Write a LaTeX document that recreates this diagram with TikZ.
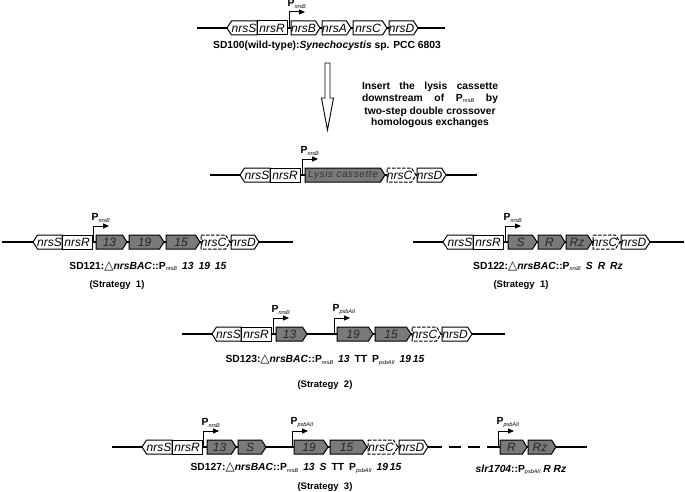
\documentclass[tikz,border=0pt]{standalone}
\usepackage{fontspec}
\setmainfont{Liberation Sans}
\newfontfamily\symf{DejaVu Sans}
\usetikzlibrary{calc,arrows.meta}
\newcounter{gnum}
\tikzset{
  backbone/.style={line width=1.2pt},
  wt/.style={draw, line width=1pt, fill=white},
  ins/.style={draw, line width=1pt, fill=black!52},
  del/.style={draw, line width=1pt, fill=white, dash pattern=on 3.5pt off 1.5pt},
  gname/.style={font=\fontsize{12}{14}\selectfont\itshape, inner sep=0pt},
  lab/.style={font=\fontsize{10.3}{12}\selectfont\bfseries, inner sep=0pt},
  strat/.style={font=\fontsize{9.5}{11}\selectfont\bfseries, inner sep=0pt},
  promarrow/.style={line width=1pt, -{Triangle[length=6pt,width=5pt]}},
}
\newcommand{\Pn}[1]{P\raisebox{-1.5pt}{\fontsize{5.5}{6}\selectfont\mdseries\itshape #1}}
\newcommand{\dlt}{{\symf\mdseries\fontsize{12}{12}\selectfont △}}
\newcommand{\gap}{\hspace{5pt}}
% genes: [style]{x start}{x end}{name}
\newcommand{\geneR}[4][wt]{%
  \stepcounter{gnum}%
  \draw[#1] (#2,-7) -- (#3-4.5,-7) -- (#3,0) -- (#3-4.5,7) -- (#2,7) -- cycle;
  \node[gname] (g\arabic{gnum}) at ({(#2+#3-4)/2},0) {#4};}
\newcommand{\geneL}[4][wt]{%
  \stepcounter{gnum}%
  \draw[#1] (#2,0) -- (#2+4.5,-7) -- (#3,-7) -- (#3,7) -- (#2+4.5,7) -- cycle;
  \node[gname] (g\arabic{gnum}) at ({(#2+4+#3)/2},0) {#4};}
\newcommand{\geneB}[4][wt]{%
  \stepcounter{gnum}%
  \draw[#1] (#2,-7) rectangle (#3,7);
  \node[gname] (g\arabic{gnum}) at ({(#2+#3)/2},0) {#4};}
% promoter: {name}{x}{label}
\newcommand{\prom}[3]{%
  \coordinate (#1) at (#2,0);
  \draw[promarrow] (#1) -- ++(0,-16) -- ++(16,0);
  \node[lab, anchor=south west] (#1t) at ($(#1)+(-1.5,-19.5)$) {#3};}

\begin{document}
\begin{tikzpicture}[x=1pt,y=-1pt]
  \useasboundingbox (0,0) rectangle (685,492);
  % wild type
  \begin{scope}[shift={(0,28)}]
    \coordinate (wtA) at (197,0);
    \coordinate (wtB) at (445,0);
    \draw[backbone] (wtA) -- (wtB);
    \geneL{227}{257}{nrsS}
    \geneB{257}{287}{nrsR}
    \geneR{291}{320}{nrsB}
    \geneR{322}{351}{nrsA}
    \geneR{353}{387}{nrsC}
    \geneR{389}{418}{nrsD}
    \prom{pwt}{289}{\Pn{nrsB}}
  \end{scope}
  \node[lab] (sd100) at (327,46) {SD100(wild-type):\textit{Synechocystis} sp. PCC 6803};
  % insertion step
  \draw[line width=0.9pt, fill=white] (325,63) -- (330,63) -- (330,98) -- (333.5,98)
    -- (327.5,130) -- (321.5,98) -- (325,98) -- cycle;
  \node[lab] (ins1) at (430,87) {\makebox[136pt][s]{Insert the lysis cassette}};
  \node[lab] (ins2) at (430,98.5) {\makebox[136pt][s]{downstream of \Pn{nrsB} by}};
  \node[lab] (ins3) at (430,112) {two-step double crossover};
  \node[lab] (ins4) at (430,123) {homologous exchanges};
  % cassette
  \begin{scope}[shift={(0,175)}]
    \coordinate (lcA) at (210,0);
    \coordinate (lcB) at (477,0);
    \draw[backbone] (lcA) -- (lcB);
    \geneL{240}{270}{nrsS}
    \geneB{270}{300}{nrsR}
    \geneR[ins]{305}{385}{\fontsize{10}{12}\selectfont\addfontfeature{LetterSpace=6}\color{black!80}Lysis cassette}
    \geneR[del]{387}{416}{nrsC}
    \geneR{417}{446}{nrsD}
    \prom{plc}{302}{\Pn{nrsB}}
  \end{scope}
  % SD121
  \begin{scope}[shift={(0,242)}]
    \coordinate (s1A) at (2,0);
    \coordinate (s1B) at (293,0);
    \draw[backbone] (s1A) -- (s1B);
    \geneL{33}{62}{nrsS}
    \geneB{62}{92}{nrsR}
    \geneR[ins]{96}{127}{\color{black!85}13}
    \geneR[ins]{129}{164}{\color{black!85}19}
    \geneR[ins]{166}{200}{\color{black!85}15}
    \geneR[del]{201}{230}{nrsC}
    \geneR{231}{259}{nrsD}
    \prom{p121}{93}{\Pn{nrsB}}
  \end{scope}
  \node[lab] (sd121) at (148,266) {SD121:\dlt\textit{nrsBAC}::\Pn{nrsB}\gap\textit{13\gap 19\gap 15}};
  \node[strat] (st1a) at (117,285) {(Strategy\ \ 1)};
  % SD122
  \begin{scope}[shift={(0,242)}]
    \coordinate (s2A) at (413,0);
    \coordinate (s2B) at (684,0);
    \draw[backbone] (s2A) -- (s2B);
    \geneL{443}{473}{nrsS}
    \geneB{473}{503}{nrsR}
    \geneR[ins]{508}{537}{\color{black!85}S}
    \geneR[ins]{538}{565}{\color{black!85}R}
    \geneR[ins]{566}{592}{\color{black!85}Rz}
    \geneR[del]{593}{620}{nrsC}
    \geneR{621}{650}{nrsD}
    \prom{p122}{505}{\Pn{nrsB}}
  \end{scope}
  \node[lab] (sd122) at (548,266) {SD122:\dlt\textit{nrsBAC}::\Pn{nrsB}\gap\textit{S\gap R\gap Rz}};
  \node[strat] (st1b) at (521,285) {(Strategy\ \ 1)};
  % SD123
  \begin{scope}[shift={(0,334)}]
    \coordinate (s3A) at (182,0);
    \coordinate (s3B) at (505,0);
    \draw[backbone] (s3A) -- (s3B);
    \geneL{212}{241}{nrsS}
    \geneB{241}{271}{nrsR}
    \geneR[ins]{276}{307}{\color{black!85}13}
    \geneR[ins]{337}{373}{\color{black!85}19}
    \geneR[ins]{375}{411}{\color{black!85}15}
    \geneR[del]{412}{441}{nrsC}
    \geneR{442}{472}{nrsD}
    \prom{p123a}{273}{\Pn{nrsB}}
    \prom{p123b}{334}{\Pn{psbAII}}
  \end{scope}
  \node[lab] (sd123) at (325,360) {SD123:\dlt\textit{nrsBAC}::\Pn{nrsB}\gap\textit{13}\gap TT\gap\Pn{psbAII}\gap\textit{19\,15}};
  \node[strat] (st2) at (325,385) {(Strategy\ \ 2)};
  % SD127 and slr1704
  \begin{scope}[shift={(0,447)}]
    \coordinate (s4A) at (112,0);
    \coordinate (s4B) at (430,0);
    \coordinate (s4C) at (498,0);
    \coordinate (s4D) at (587,0);
    \draw[backbone] (s4A) -- (s4B);
    \draw[backbone, dash pattern=on 12pt off 7pt] (s4B) -- (s4C);
    \draw[backbone] (s4C) -- (s4D);
    \geneL{142}{172}{nrsS}
    \geneB{172}{202}{nrsR}
    \geneR[ins]{207}{236}{\color{black!85}13}
    \geneR[ins]{238}{266}{\color{black!85}S}
    \geneR[ins]{294}{328}{\color{black!85}19}
    \geneR[ins]{330}{367}{\color{black!85}15}
    \geneR[del]{368}{398}{nrsC}
    \geneR{399}{428}{nrsD}
    \geneR[ins]{500}{527}{\color{black!85}R}
    \geneR[ins]{528}{556}{\color{black!85}Rz}
    \prom{p127a}{203}{\Pn{nrsB}}
    \prom{p127b}{292}{\Pn{psbAII}}
    \prom{pslr}{498}{\Pn{psbAII}}
  \end{scope}
  \node[lab] (sd127) at (296,468) {SD127:\dlt\textit{nrsBAC}::\Pn{nrsB}\gap\textit{13}\gap\textit{S}\gap TT\gap\Pn{psbAII}\gap\textit{19\,15}};
  \node[strat] (st3) at (325,487) {(Strategy\ \ 3)};
  \node[lab] (slr) at (521,470) {\textit{slr1704}::\Pn{psbAII}\ \textit{R\ Rz}};
\end{tikzpicture}
\end{document}
